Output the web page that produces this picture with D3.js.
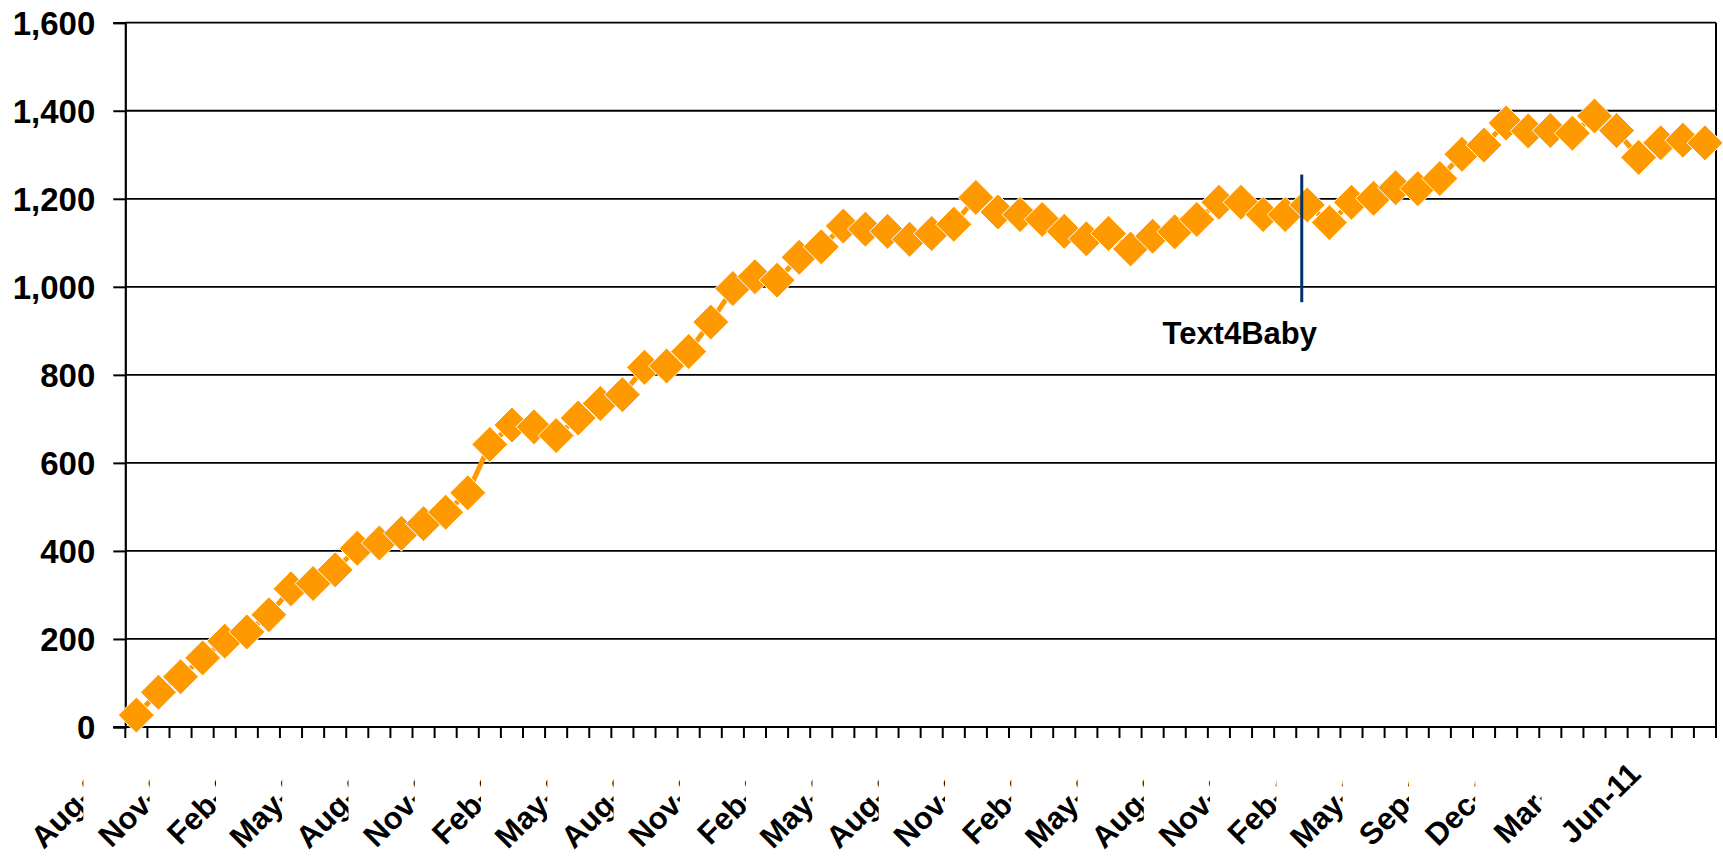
<!DOCTYPE html>
<html>
<head>
<meta charset="utf-8">
<script src="https://cdn.jsdelivr.net/npm/d3@7"></script>
<style>
  body { margin: 0; background: #fff; }
  svg { display: block; font-family: "Liberation Sans", Arial, sans-serif; font-weight: bold; }
</style>
</head>
<body>
<svg id="chart" width="1723" height="864"></svg>
<script>
// monthly categories (one month is missing in the source around mid-2010)
const months = [
  'Aug-05', 'Sep-05', 'Oct-05', 'Nov-05', 'Dec-05',
  'Jan-06', 'Feb-06', 'Mar-06', 'Apr-06', 'May-06', 'Jun-06', 'Jul-06', 'Aug-06', 'Sep-06', 'Oct-06', 'Nov-06', 'Dec-06',
  'Jan-07', 'Feb-07', 'Mar-07', 'Apr-07', 'May-07', 'Jun-07', 'Jul-07', 'Aug-07', 'Sep-07', 'Oct-07', 'Nov-07', 'Dec-07',
  'Jan-08', 'Feb-08', 'Mar-08', 'Apr-08', 'May-08', 'Jun-08', 'Jul-08', 'Aug-08', 'Sep-08', 'Oct-08', 'Nov-08', 'Dec-08',
  'Jan-09', 'Feb-09', 'Mar-09', 'Apr-09', 'May-09', 'Jun-09', 'Jul-09', 'Aug-09', 'Sep-09', 'Oct-09', 'Nov-09', 'Dec-09',
  'Jan-10', 'Feb-10', 'Mar-10', 'Apr-10', 'May-10', 'Jun-10', 'Aug-10', 'Sep-10', 'Oct-10', 'Nov-10', 'Dec-10',
  'Jan-11', 'Feb-11', 'Mar-11', 'Apr-11', 'May-11', 'Jun-11', 'Jul-11', 'Aug-11',
];

const counts = [
  27, 79, 114, 157, 195, 216, 255, 314, 326, 357, 406, 418, 440, 462, 488, 532,
  642, 686, 682, 662, 702, 735, 755, 817, 820, 853, 920, 996, 1023, 1015, 1067, 1091,
  1138, 1131, 1126, 1108, 1121, 1142, 1203, 1170, 1164, 1153, 1126, 1109, 1121, 1086,
  1115, 1125, 1153, 1192, 1192, 1164, 1164, 1186, 1146, 1192, 1201, 1225, 1223, 1246,
  1301, 1322, 1372, 1354, 1355, 1349, 1388, 1355, 1294, 1327, 1333, 1327,
];

const yTicks = [0, 200, 400, 600, 800, 1000, 1200, 1400, 1600];
const labelEvery = 3;

// Text4Baby launch marker
const eventName = 'Text4Baby';
const eventMonth = 'Jan-10';
const eventOffset = 0.25; // fraction of a band after eventMonth
const eventRange = [965, 1255];

const svg = d3.select('#chart');
const plotLeft = 125.3;
const plotRight = 1716;
const plotTop = 22.7;
const plotBottom = 727;

const x = d3.scaleBand().domain(months).range([plotLeft, plotRight]).padding(0);
const y = d3.scaleLinear().domain([0, 1600]).range([plotBottom, plotTop]);
const bw = x.bandwidth();
const cx = (m) => x(m) + bw / 2;

// gridlines
svg.append('g')
  .selectAll('line')
  .data(yTicks.filter((t) => t > 0))
  .join('line')
  .attr('x1', plotLeft)
  .attr('x2', plotRight)
  .attr('y1', (d) => y(d))
  .attr('y2', (d) => y(d))
  .attr('stroke', '#000')
  .attr('stroke-width', 1.8);

// right border
svg.append('line')
  .attr('x1', plotRight).attr('x2', plotRight)
  .attr('y1', y(1600)).attr('y2', y(0))
  .attr('stroke', '#000').attr('stroke-width', 2);

// y axis
const yAxis = d3.axisLeft(y).tickValues(yTicks).tickSize(12).tickPadding(18).tickFormat(d3.format(','));
const gy = svg.append('g').attr('transform', `translate(${plotLeft},0)`).call(yAxis);
gy.select('.domain').attr('stroke', '#000').attr('stroke-width', 2.2);
gy.selectAll('.tick line').attr('stroke', '#000').attr('stroke-width', 2);
gy.selectAll('.tick text')
  .attr('fill', '#000')
  .attr('font-size', 33)
  .attr('font-weight', 'bold')
  .attr('font-family', '"Liberation Sans", Arial, sans-serif')
  .attr('dy', '0.36em');

// x axis line and ticks at band edges
svg.append('line')
  .attr('x1', plotLeft - 12).attr('x2', plotRight)
  .attr('y1', plotBottom).attr('y2', plotBottom)
  .attr('stroke', '#000').attr('stroke-width', 2.2);

const edges = months.map((m) => x(m)).concat([plotRight]);
svg.append('g')
  .selectAll('line')
  .data(edges)
  .join('line')
  .attr('x1', (d) => d)
  .attr('x2', (d) => d)
  .attr('y1', plotBottom)
  .attr('y2', plotBottom + 11)
  .attr('stroke', '#000')
  .attr('stroke-width', 2);

// x labels, rotated; each one is cut off where the next begins
const labelled = months.filter((m, i) => i % labelEvery === 0);
const defs = svg.append('defs');
const gx = svg.append('g');
labelled.forEach((m, k) => {
  const ax = cx(m) - 26;
  const ay = plotBottom + 41;
  const holder = gx.append('g');
  holder.append('text')
    .attr('transform', `translate(${ax},${ay}) rotate(-45)`)
    .attr('text-anchor', 'end')
    .attr('dy', '0.35em')
    .attr('font-size', 31)
    .attr('fill', '#000')
    .text(m);
  if (k < labelled.length - 1) {
    const id = `clip${k}`;
    defs.append('clipPath')
      .attr('id', id)
      .append('rect')
      .attr('x', 0)
      .attr('y', plotBottom)
      .attr('width', x(m) - 1.9 * bw)
      .attr('height', 200);
    holder.attr('clip-path', `url(#${id})`);
  }
});

// series line
const line = d3.line()
  .x((d, i) => cx(months[i]))
  .y((d) => y(d));

svg.append('path')
  .datum(counts)
  .attr('d', line)
  .attr('fill', 'none')
  .attr('stroke', '#FF9900')
  .attr('stroke-width', 5);

// diamond markers
const r = 18;
svg.append('g')
  .selectAll('path')
  .data(counts)
  .join('path')
  .attr('d', `M0,${-r}L${r},0L0,${r}L${-r},0Z`)
  .attr('transform', (d, i) => `translate(${cx(months[i])},${y(d)})`)
  .attr('fill', '#FF9900')
  .attr('stroke', '#fff')
  .attr('stroke-width', 1);

// event marker
const ex = x(eventMonth) + bw * eventOffset;
svg.append('line')
  .attr('x1', ex).attr('x2', ex)
  .attr('y1', y(eventRange[1])).attr('y2', y(eventRange[0]))
  .attr('stroke', '#003366')
  .attr('stroke-width', 3);

svg.append('text')
  .attr('x', ex - 62)
  .attr('y', y(eventRange[0]) + 42)
  .attr('text-anchor', 'middle')
  .attr('font-size', 31)
  .attr('fill', '#000')
  .text(eventName);
</script>
</body>
</html>
